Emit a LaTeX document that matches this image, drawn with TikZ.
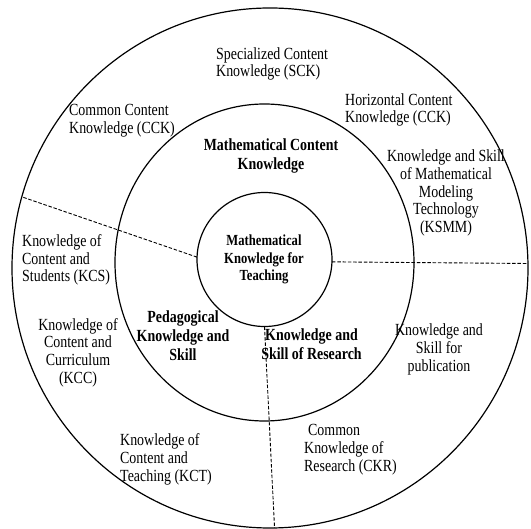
\documentclass[tikz,border=0pt]{standalone}
\usepackage{fontspec}
\setmainfont{Liberation Serif}[FakeStretch=0.82]
\usetikzlibrary{shapes.geometric}
\begin{document}
\begin{tikzpicture}[x=1pt,y=-1pt,
  ring/.style={ellipse,draw=black,line width=1.2pt,inner sep=0pt,outer sep=0pt},
  divider/.style={draw=black,line width=0.9pt,dash pattern=on 3.5pt off 1.8pt},
  txt/.style={font=\fontsize{17}{17.7}\selectfont,inner sep=0pt,text=black},
  head/.style={txt,font=\bfseries\fontsize{17}{19}\selectfont,align=center},
  core/.style={txt,font=\bfseries\fontsize{15.4}{17.5}\selectfont,align=center}
]
\useasboundingbox (0,0) rectangle (531,529);

% three nested rings
\node[ring,minimum width=516pt,minimum height=520pt] (outer) at (270,268) {};
\node[ring,minimum width=299pt,minimum height=317pt] (middle) at (264.5,262.5) {};
\node[ring,minimum width=135pt,minimum height=134pt] (inner) at (264.5,259.5) {};

% dividing lines between the three sectors
\draw[divider] (inner.178) -- (outer.164.5);
\draw[divider] (inner.-2) -- (outer.1.3);
\draw[divider] (inner.-90) -- (outer.-89.1);

% core
\node[core] (mkt) at (264,259.5) {Mathematical\\Knowledge for\\Teaching};

% middle ring headings
\node[head] (mck) at (271,155.5) {Mathematical Content\\Knowledge};
\node[head] (pks) at (183,336) {Pedagogical\\Knowledge and\\Skill};
\node[head] (ksr) at (311.5,344.5) {Knowledge and\\Skill of Research};

% outer ring components
\node[txt,align=left,anchor=west] (sck) at (216,64) {Specialized Content\\Knowledge (SCK)};
\node[txt,align=left,anchor=west] (cck) at (69,121) {Common Content\\Knowledge (CCK)};
\node[txt,align=left,anchor=west] (hck) at (345,110) {Horizontal Content\\Knowledge (CCK)};
\node[txt,align=center] (ksmm) at (446,193) {Knowledge and Skill\\of Mathematical\\Modeling\\Technology\\(KSMM)};
\node[txt,align=left,anchor=west] (kcs) at (22,260) {Knowledge of\\Content and\\Students (KCS)};
\node[txt,align=center] (kcc) at (78,352.5) {Knowledge of\\Content and\\Curriculum\\(KCC)};
\node[txt,align=center] (ksp) at (439,349.5) {Knowledge and\\Skill for\\publication};
\node[txt,align=left,anchor=west] (kct) at (120,459.5) {Knowledge of\\Content and\\Teaching (KCT)};
\node[txt,align=left,anchor=west] (ckr) at (304,449.5) {\hspace*{4pt}Common\\Knowledge of\\Research (CKR)};
\end{tikzpicture}
\end{document}
